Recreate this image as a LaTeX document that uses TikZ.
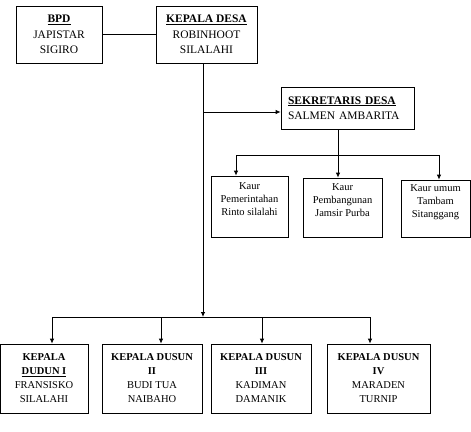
\documentclass[tikz,border=0pt]{standalone}
\usepackage{fontspec}
\setmainfont{Liberation Serif}
\usetikzlibrary{arrows.meta}
\tikzset{
  kotak/.style={draw, rectangle, inner sep=0pt, align=center, line width=0.8pt},
  besar/.style={kotak, font=\fontsize{11.5}{15.5}\selectfont},
  kaur/.style={kotak, minimum height=59pt, text depth=14pt, font=\fontsize{10.5}{13}\selectfont},
  dusun/.style={kotak, minimum width=100pt, minimum height=69pt, font=\fontsize{10.5}{14}\selectfont},
  garis/.style={line width=0.8pt},
  panah/.style={garis, -{Latex[length=5pt,width=4.5pt]}}
}
\begin{document}
\begin{tikzpicture}[x=1pt, y=-1pt]
  \useasboundingbox (0,0) rectangle (471,431);
  % atas
  \node[besar, minimum width=86pt, minimum height=57pt] (bpd) at (59,34.5)
    {\underline{\textbf{BPD}}\\JAPISTAR\\SIGIRO};
  \node[besar, minimum width=101pt, minimum height=57pt] (kades) at (206.5,34.5)
    {\underline{\textbf{KEPALA DESA}}\\ROBINHOOT\\SILALAHI};
  \node[besar, align=left, text width=119pt, inner xsep=7pt, minimum height=42pt] (sekdes) at (347.5,108)
    {\underline{\textbf{SEKRETARIS DESA}}\\SALMEN AMBARITA};
  % kaur
  \node[kaur, minimum width=77pt, minimum height=61pt] (kaur1) at (249.5,206.5)
    {Kaur\\Pemerintahan\\Rinto silalahi};
  \node[kaur, minimum width=79pt] (kaur2) at (342.5,207.5)
    {Kaur\\Pembangunan\\Jamsir Purba};
  \node[kaur, minimum width=69pt, minimum height=57pt] (kaur3) at (435.5,208.5)
    {Kaur umum\\Tambam\\Sitanggang};
  % dusun
  \node[dusun, minimum width=88pt] (dusun1) at (44,378.5)
    {\textbf{KEPALA}\\\underline{\textbf{DUDUN I}}\\FRANSISKO\\SILALAHI};
  \node[dusun] (dusun2) at (152,378.5)
    {\textbf{KEPALA DUSUN}\\\textbf{II}\\BUDI TUA\\NAIBAHO};
  \node[dusun] (dusun3) at (261,378.5)
    {\textbf{KEPALA DUSUN}\\\textbf{III}\\KADIMAN\\DAMANIK};
  \node[dusun, minimum width=103pt] (dusun4) at (378.5,378.5)
    {\textbf{KEPALA DUSUN}\\\textbf{IV}\\MARADEN\\TURNIP};
  % titik bantu
  \coordinate (pusat) at (203,317);
  \coordinate (sk) at (203,112);
  \coordinate (sj) at (338,155);
  \coordinate (k1) at (236,155);
  \coordinate (k3) at (439,155);
  \coordinate (d1) at (52,317);
  \coordinate (d2) at (161,317);
  \coordinate (d3) at (262,317);
  \coordinate (d4) at (370,317);
  % garis
  \draw[garis] (bpd) -- (kades);
  \draw[panah] (kades.south -| pusat) -- (pusat);
  \draw[panah] (sk) -- (sekdes.west |- sk);
  \draw[garis] (sekdes.south -| sj) -- (sj);
  \draw[garis] (k1) -- (k3);
  \draw[panah] (k1) -- (k1 |- kaur1.north);
  \draw[panah] (sj) -- (sj |- kaur2.north);
  \draw[panah] (k3) -- (k3 |- kaur3.north);
  \draw[garis] (d1) -- (d4);
  \draw[panah] (d1) -- (d1 |- dusun1.north);
  \draw[panah] (d2) -- (d2 |- dusun2.north);
  \draw[panah] (d3) -- (d3 |- dusun3.north);
  \draw[panah] (d4) -- (d4 |- dusun4.north);
\end{tikzpicture}
\end{document}
